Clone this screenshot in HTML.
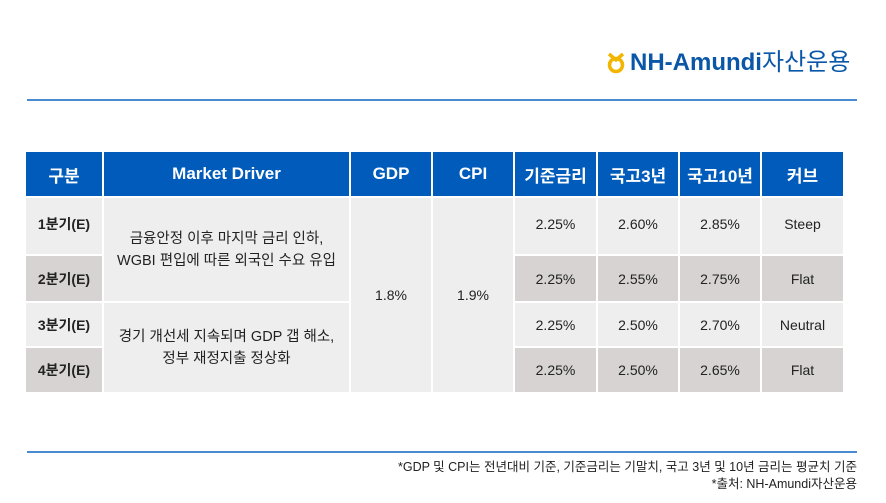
<!DOCTYPE html>
<html><head><meta charset="utf-8"><style>
body{margin:0;width:886px;height:503px;background:#fff;position:relative;overflow:hidden;font-family:"Liberation Sans","Noto Sans CJK KR",sans-serif;}
.c{position:absolute;display:flex;align-items:center;justify-content:center;text-align:center;box-sizing:border-box;color:#222;font-size:14px;}
.h{background:#005bbb;color:#fff;font-size:17px;font-weight:bold;}
.l{background:#eeeeee}.g{background:#d6d3d2}
.b{font-weight:bold;font-size:14px}
.line{position:absolute;left:27px;width:830px;height:2px;background:#4a8ad0}
</style></head><body>
<div style="position:absolute;left:606px;top:52px;width:20px;height:22px;"><svg width="20" height="22"><circle cx="10" cy="13" r="6.5" fill="none" stroke="#f2b600" stroke-width="3.5"/><path d="M3 2 L10 8 L17 2" fill="none" stroke="#f2b600" stroke-width="3.5"/></svg></div>
<div style="position:absolute;left:630px;top:49px;font-size:24px;font-weight:bold;color:#0a57a8;line-height:28px;white-space:nowrap;">NH-Amundi<span style="font-weight:normal">자산운용</span></div>
<div class="line" style="top:99px"></div>
<div class="line" style="top:451px"></div>

<div class="c h" style="left:26px;top:152px;width:76px;height:44px">구분</div>
<div class="c h" style="left:104px;top:152px;width:245px;height:44px">Market Driver</div>
<div class="c h" style="left:351px;top:152px;width:80px;height:44px">GDP</div>
<div class="c h" style="left:433px;top:152px;width:80px;height:44px">CPI</div>
<div class="c h" style="left:515px;top:152px;width:81px;height:44px">기준금리</div>
<div class="c h" style="left:598px;top:152px;width:80px;height:44px">국고3년</div>
<div class="c h" style="left:680px;top:152px;width:80px;height:44px">국고10년</div>
<div class="c h" style="left:762px;top:152px;width:81px;height:44px">커브</div>

<div class="c l b" style="left:26px;top:198px;width:76px;height:56px;padding-bottom:5px">1분기(E)</div>
<div class="c g b" style="left:26px;top:256px;width:76px;height:45px">2분기(E)</div>
<div class="c l b" style="left:26px;top:303px;width:76px;height:43px">3분기(E)</div>
<div class="c g b" style="left:26px;top:348px;width:76px;height:44px">4분기(E)</div>

<div class="c l" style="left:104px;top:198px;width:245px;height:103px;line-height:22px;font-size:14.5px">금융안정 이후 마지막 금리 인하,<br>WGBI 편입에 따른 외국인 수요 유입</div>
<div class="c l" style="left:104px;top:303px;width:245px;height:89px;line-height:22px;font-size:14.5px">경기 개선세 지속되며 GDP 갭 해소,<br>정부 재정지출 정상화</div>
<div class="c l" style="left:351px;top:198px;width:80px;height:194px">1.8%</div>
<div class="c l" style="left:433px;top:198px;width:80px;height:194px">1.9%</div>

<div class="c l" style="left:515px;top:198px;width:81px;height:56px;padding-bottom:5px">2.25%</div>
<div class="c l" style="left:598px;top:198px;width:80px;height:56px;padding-bottom:5px">2.60%</div>
<div class="c l" style="left:680px;top:198px;width:80px;height:56px;padding-bottom:5px">2.85%</div>
<div class="c l" style="left:762px;top:198px;width:81px;height:56px;padding-bottom:5px">Steep</div>

<div class="c g" style="left:515px;top:256px;width:81px;height:45px">2.25%</div>
<div class="c g" style="left:598px;top:256px;width:80px;height:45px">2.55%</div>
<div class="c g" style="left:680px;top:256px;width:80px;height:45px">2.75%</div>
<div class="c g" style="left:762px;top:256px;width:81px;height:45px">Flat</div>

<div class="c l" style="left:515px;top:303px;width:81px;height:43px">2.25%</div>
<div class="c l" style="left:598px;top:303px;width:80px;height:43px">2.50%</div>
<div class="c l" style="left:680px;top:303px;width:80px;height:43px">2.70%</div>
<div class="c l" style="left:762px;top:303px;width:81px;height:43px">Neutral</div>

<div class="c g" style="left:515px;top:348px;width:81px;height:44px">2.25%</div>
<div class="c g" style="left:598px;top:348px;width:80px;height:44px">2.50%</div>
<div class="c g" style="left:680px;top:348px;width:80px;height:44px">2.65%</div>
<div class="c g" style="left:762px;top:348px;width:81px;height:44px">Flat</div>

<div style="position:absolute;right:29px;top:459px;font-size:12.5px;color:#222;text-align:right;line-height:17px">*GDP 및 CPI는 전년대비 기준, 기준금리는 기말치, 국고 3년 및 10년 금리는 평균치 기준<br>*출처: NH-Amundi자산운용</div>
</body></html>
